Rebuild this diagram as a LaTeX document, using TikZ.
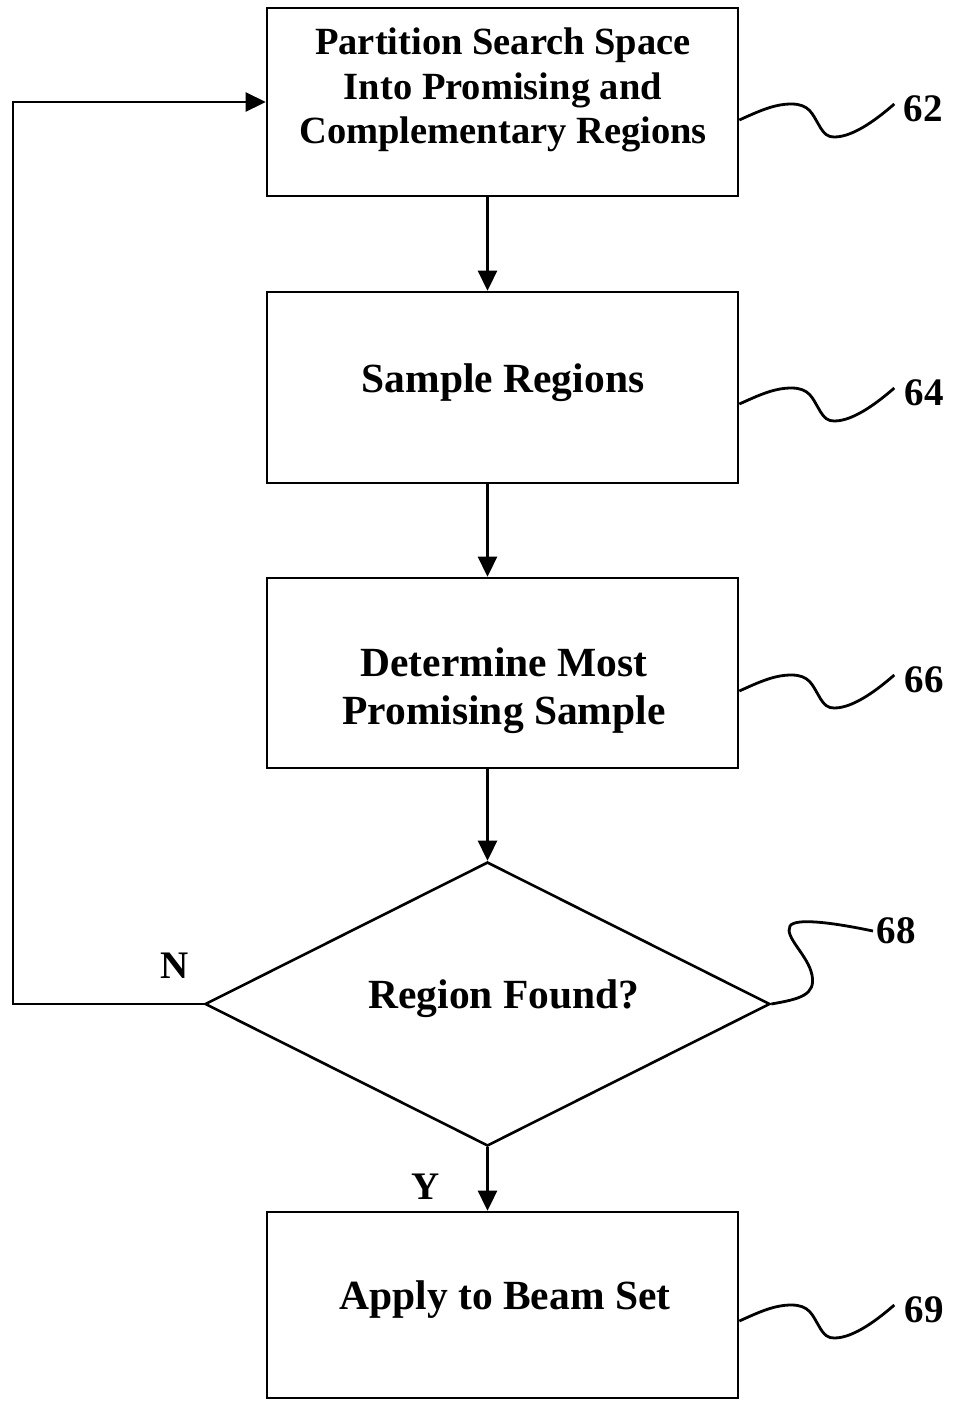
\documentclass[tikz,border=0pt]{standalone}
\usepackage{fontspec}
\setmainfont{Liberation Serif}
\usetikzlibrary{arrows.meta,shapes.geometric}

\tikzset{
  stepbox/.style={draw, line width=2.6pt, inner sep=0pt, minimum width=471pt},
  decision/.style={draw, line width=2.6pt, diamond, inner sep=0pt,
    minimum width=565pt, minimum height=284pt},
  boxtext/.style={font=\fontsize{41.5}{48}\selectfont\bfseries, align=center},
  smalltext/.style={font=\fontsize{38.5}{44.5}\selectfont\bfseries, align=center},
  reflabel/.style={font=\fontsize{39}{46}\selectfont\bfseries},
  flow/.style={line width=2.6pt, -{Triangle[length=20pt,width=19pt]}},
  leader/.style={line width=2.8pt},
  wave/.pic={\draw[leader] (0,11) .. controls (20,2) and (35,-5) .. (52,-5)
      .. controls (70,-5) and (73,5) .. (79,15)
      .. controls (85,26) and (89,28) .. (95,28)
      .. controls (115,28) and (140,8) .. (155,-5);}
}

\begin{document}
\begin{tikzpicture}[x=1pt, y=-1pt]
\useasboundingbox (0,0) rectangle (955,1401);

% process boxes
\node[stepbox, minimum height=188pt] (b1) at (502.5,102) {};
\node[stepbox, minimum height=191pt] (b2) at (502.5,387.5) {};
\node[stepbox, minimum height=190pt] (b3) at (502.5,673) {};
\node[decision] (d) at (487.5,1004) {};
\node[stepbox, minimum height=186pt] (b5) at (502.5,1305) {};

% box texts
\node[smalltext] (t1) at (503,90) {Partition Search Space\\Into Promising and\\Complementary Regions};
\node[boxtext] (t2) at (503,383) {Sample Regions};
\node[boxtext] (t3) at (504,691) {Determine Most\\Promising Sample};
\node[boxtext] (t4) at (504,999) {Region Found?};
\node[boxtext] (t5) at (505,1300) {Apply to Beam Set};

% flow arrows
\draw[flow] (b1.south -| d.center) -- (b2.north -| d.center);
\draw[flow] (b2.south -| d.center) -- (b3.north -| d.center);
\draw[flow] (b3.south -| d.center) -- (d.north);
\draw[flow] (d.south) -- (b5.north -| d.center);

% loop back on "N"
\coordinate (back) at (13,102);
\draw[flow] (d.west) -| (back) -- (b1.west);

\node[reflabel] (n) at (175,966) {N};
\node[reflabel] (y) at (426,1187) {Y};

% reference numerals
\node[reflabel] (l62) at (923,109) {62};
\node[reflabel] (l64) at (924,393) {64};
\node[reflabel] (l66) at (924,680) {66};
\node[reflabel] (l68) at (896,931) {68};
\node[reflabel] (l69) at (924,1310) {69};

\pic at (b1.east |- l62) {wave};
\pic at (b2.east |- l64) {wave};
\pic at (b3.east |- l66) {wave};
\pic at (b5.east |- l69) {wave};

\draw[leader] (d.east) .. controls (800,999) and (816,995) .. (812,975)
  .. controls (808,955) and (784,937) .. (790,926)
  .. controls (795,918) and (830,922) .. (l68.west);
\end{tikzpicture}
\end{document}
